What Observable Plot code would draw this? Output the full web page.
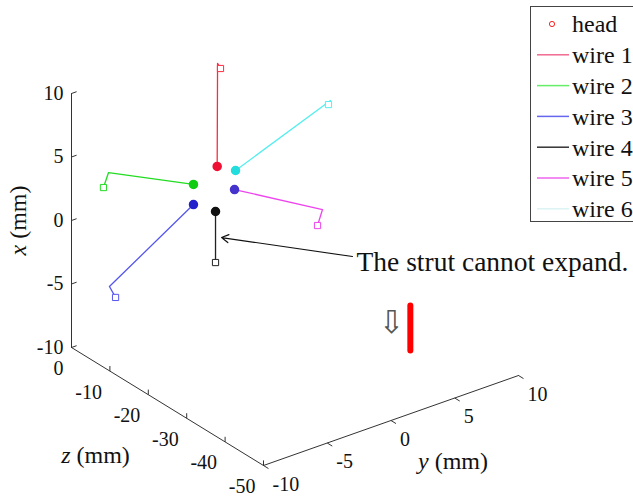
<!DOCTYPE html>
<html><head><meta charset="utf-8">
<script src="https://cdn.jsdelivr.net/npm/d3@7"></script>
<script src="https://cdn.jsdelivr.net/npm/@observablehq/plot@0.6"></script>
<style>
body{margin:0;background:#fff;}
#wrap{position:relative;width:633px;height:498px;overflow:hidden;font-family:"Liberation Serif",Tinos,"Nimbus Roman","DejaVu Serif",serif;}
#legend{position:absolute;left:530px;top:6px;width:120px;height:216px;border:1px solid #444;background:#fff;box-sizing:border-box;}
#legend svg text, svg text{font-family:"Liberation Serif",Tinos,"Nimbus Roman","DejaVu Serif",serif;}
</style></head><body><div id="wrap"></div>
<script>
// ---- data (mm) ----
const wires = ["wire 1", "wire 2", "wire 3", "wire 4", "wire 5", "wire 6"];
const wireColors = ["#ff2a40", "#22dd22", "#5555ee", "#222222", "#ee44ee", "#55eeee"];
const legendColors = ["#f06a90", "#66ee66", "#6666ee", "#333333", "#ee66ee", "#ddf4f4"];
const headColors = ["#ee1133", "#11cc11", "#2222cc", "#111111", "#4433cc", "#22dddd"];
const headX = [1.67, 0.91, -0.67, -1.83, -0.63, 0.84];
const headY = [-0.08, -1.94, -1.94, -0.21, 1.28, 1.36];
const headZ = [-5, -5, -5, -5, -5, -5];
const pulleyX = [9.77, 4.21, -4.79, -5.30, -4.65, 3.71];
const pulleyY = [-0.05, -8.60, -8.53, -0.21, 8.18, 8.81];
const pulleyZ = [-5, -5, -5, -5, -5, -5];
const anchorX = [9.29, 3.17, -5.82, -5.85, -5.77, 3.45];
const anchorY = [0.18, -9.00, -8.05, -0.21, 7.79, 8.65];
const anchorZ = [-5, -5, -5, -5, -5, -5];
const xTicks = [-10, -5, 0, 5, 10];
const yTicks = [-10, -5, 0, 5, 10];
const zTicks = [0, -10, -20, -30, -40, -50];
const annotationText = "The strut cannot expand.";
const annotationAt = [-9.76, 10.85, -5];
const arrowFrom = [-9.18, 10.53, -5];
const arrowTo = [-4.05, 0.26, -5];
const loadBarFrom = [-14.65, 15.07, -5];
const loadBarTo = [-18.19, 15.07, -5];
const loadArrowAt = [-15.46, 13.59, -5];

// ---- 3D view projection (orthographic) ----
const U = (x, y, z) => 12.75 * (y + 10) - 3.84 * z;
const V = (x, y, z) => 12.7 * (x + 10) + 4.5 * (y + 10) + 2.36 * z;
const pt = (x, y, z, extra = {}) => ({u: U(x, y, z), v: V(x, y, z), ...extra});

const wireRows = wires.flatMap((w, i) => [
  pt(headX[i], headY[i], headZ[i], {wire: w}),
  pt(pulleyX[i], pulleyY[i], pulleyZ[i], {wire: w}),
  pt(anchorX[i], anchorY[i], anchorZ[i], {wire: w})
]);
const heads = wires.map((w, i) => pt(headX[i], headY[i], headZ[i], {wire: w, c: headColors[i]}));
const anchors = wires.map((w, i) => pt(anchorX[i], anchorY[i], anchorZ[i], {wire: w, c: wireColors[i]}));

const xAxis = [pt(-10, -10, 0), pt(10, -10, 0)];
const zAxis = [pt(-10, -10, 0), pt(-10, -10, -50)];
const yAxis = [pt(-10, -10, -50), pt(-10, 10, -50)];
const tick = (a, b, label) => {const p = pt(...a), q = pt(...b); return {u1: p.u, v1: p.v, u2: q.u, v2: q.v, label};};
const xTickRows = xTicks.map(t => tick([t, -10, 0], [t, -9.6, 0], t));
const zTickRows = zTicks.map(t => tick([-10, -10, t], [-9.6, -10, t], t));
const yTickRows = yTicks.map(t => tick([-10, t, -50], [-10, t, -51.3], t));
const fmt = t => t < 0 ? "-" + Math.abs(t) : String(t);

const arrowRow = tick(arrowFrom, arrowTo, "");
const barRows = [pt(...loadBarFrom), pt(...loadBarTo)];
const SERIF = "'Liberation Serif', Tinos, 'Nimbus Roman', 'DejaVu Serif', serif";

const chart = Plot.plot({
  width: 633, height: 498,
  margin: 0,
  x: {domain: [-71, 562], range: [0, 633], axis: null},
  y: {domain: [-151, 347], range: [498, 0], axis: null},
  style: {fontFamily: SERIF, fontSize: "20px", background: "transparent", color: "#111"},
  marks: [
    Plot.line(xAxis, {x: "u", y: "v", stroke: "#333", strokeWidth: 1}),
    Plot.line(zAxis, {x: "u", y: "v", stroke: "#333", strokeWidth: 1}),
    Plot.line(yAxis, {x: "u", y: "v", stroke: "#333", strokeWidth: 1}),
    Plot.link(xTickRows, {x1: "u1", y1: "v1", x2: "u2", y2: "v2", stroke: "#333"}),
    Plot.link(zTickRows, {x1: "u1", y1: "v1", x2: "u2", y2: "v2", stroke: "#333"}),
    Plot.link(yTickRows, {x1: "u1", y1: "v1", x2: "u2", y2: "v2", stroke: "#333"}),
    Plot.text(xTickRows, {x: "u1", y: "v1", text: d => fmt(d.label), textAnchor: "end", dx: -8, fontSize: 20, fontFamily: SERIF, fill: "#111"}),
    Plot.text(zTickRows, {x: "u1", y: "v1", text: d => fmt(d.label), textAnchor: "end", dx: -8, dy: 21, fontSize: 20, fontFamily: SERIF, fill: "#111"}),
    Plot.text(yTickRows, {x: "u1", y: "v1", text: d => fmt(d.label), textAnchor: "start", dx: 9, dy: 19, fontSize: 20, fontFamily: SERIF, fill: "#111"}),
    Plot.text([pt(0, -10, 0)], {x: "u", y: "v", text: () => "x (mm)", rotate: -90, dx: -53, fontSize: 24, fontFamily: SERIF, fill: "#111"}),
    Plot.text([pt(-10, -10, -25)], {x: "u", y: "v", text: () => "z (mm)", dx: -72, dy: 49, fontSize: 24, fontFamily: SERIF, fill: "#111"}),
    Plot.text([pt(-10, 0, -50)], {x: "u", y: "v", text: () => "y (mm)", dx: 62, dy: 41, fontSize: 24, fontFamily: SERIF, fill: "#111"}),
    Plot.line(wireRows, {x: "u", y: "v", z: "wire", stroke: d => wireColors[wires.indexOf(d.wire)], strokeWidth: 1.3}),
    Plot.dot(anchors, {x: "u", y: "v", symbol: "square", r: 3.5, stroke: "c", fill: "white", strokeWidth: 1}),
    Plot.dot(heads, {x: "u", y: "v", r: 4, fill: "c", stroke: "c"}),
    Plot.arrow([arrowRow], {x1: "u1", y1: "v1", x2: "u2", y2: "v2", stroke: "#111", strokeWidth: 1.2, headLength: 10, bend: 0}),
    Plot.text([pt(...annotationAt)], {x: "u", y: "v", text: () => annotationText, textAnchor: "start", fontSize: 27.5, fontFamily: SERIF, fill: "#111"}),
    Plot.line(barRows, {x: "u", y: "v", stroke: "#ff0000", strokeWidth: 6, strokeLinecap: "round"}),
    Plot.text([pt(...loadArrowAt)], {x: "u", y: "v", text: () => "\u21E9", fontFamily: "DejaVu Sans", fontSize: 32, fill: "#555"})
  ]
});

// italic axis-variable letters
d3.select(chart).selectAll("text").each(function () {
  const m = /^([xyz]) (\(mm\))$/.exec(this.textContent);
  if (m) {
    this.textContent = "";
    const s = d3.select(this);
    s.append("tspan").attr("font-style", "italic").text(m[1] + " ");
    s.append("tspan").text(m[2]);
  }
});

const wrap = document.getElementById("wrap");
wrap.appendChild(chart);

// legend
const legend = document.createElement("div");
legend.id = "legend";
wrap.appendChild(legend);
const lsvg = d3.select(legend).append("svg").attr("width", 120).attr("height", 214)
  .style("font-family", SERIF).style("font-size", "24px");
const entries = [{label: "head", kind: "dot", color: "#ff2020"}]
  .concat(wires.map((w, i) => ({label: w, kind: "line", color: legendColors[i]})));
entries.forEach((e, i) => {
  const cy = 17 + i * 30.8;
  if (e.kind === "dot") {
    lsvg.append("circle").attr("cx", 21).attr("cy", cy).attr("r", 2.6).attr("fill", "none").attr("stroke", e.color).attr("stroke-width", 1);
  } else {
    lsvg.append("line").attr("x1", 6).attr("x2", 38).attr("y1", cy).attr("y2", cy).attr("stroke", e.color).attr("stroke-width", 1.5);
  }
  lsvg.append("text").attr("x", 41).attr("y", cy).attr("dy", "0.35em").attr("fill", "#111").text(e.label);
});
</script></body></html>
